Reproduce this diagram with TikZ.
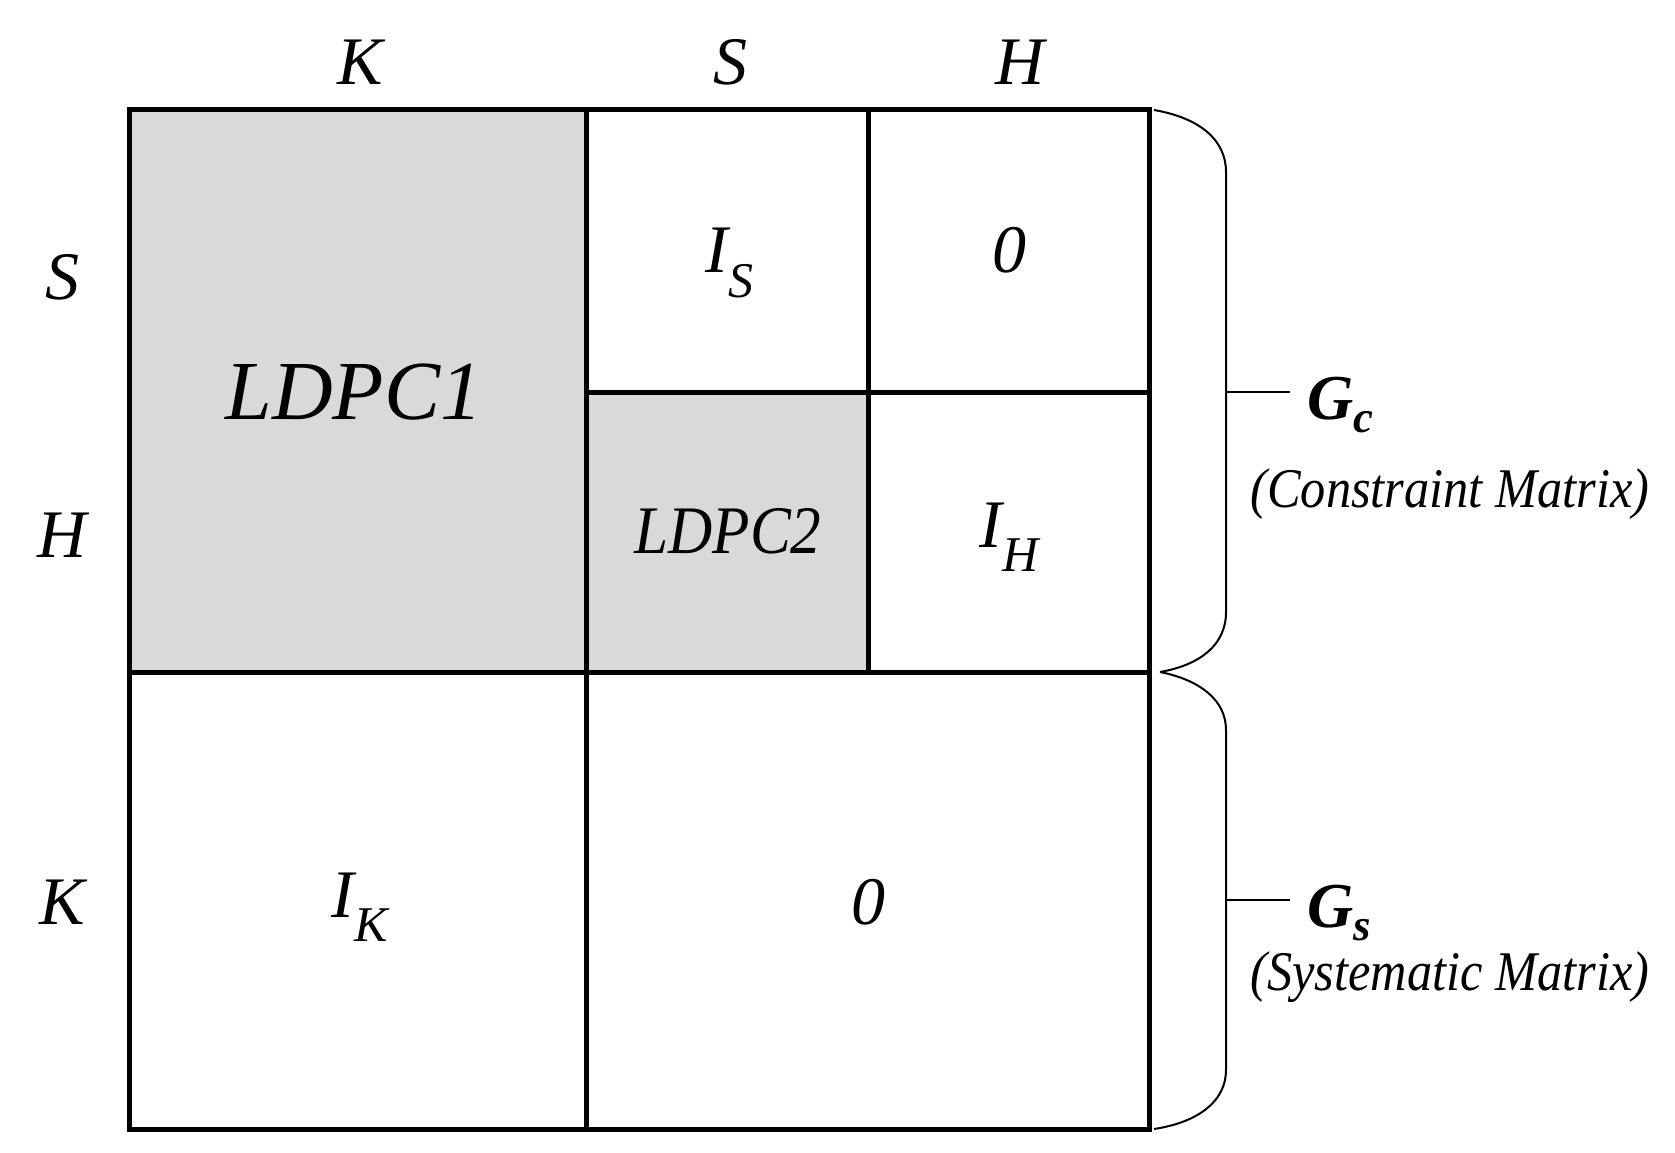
\documentclass[tikz,border=0pt]{standalone}
\usepackage{fontspec}
\setmainfont{Liberation Serif}
\begin{document}
\begin{tikzpicture}[x=1pt,y=-1pt,
  cell/.style={draw=black,line width=5pt},
  lab/.style={font=\fontsize{68}{68}\selectfont\itshape},
  big/.style={font=\fontsize{84}{84}\selectfont\itshape},
  note/.style={font=\fontsize{56}{56}\selectfont\itshape,xscale=0.9},
  brace/.style={line width=2pt}]
\useasboundingbox (0,0) rectangle (1675,1153);
\fill[gray!30] (129,110) rectangle (586,672);
\fill[gray!30] (586,392) rectangle (868,672);
\draw[cell] (129,110) rectangle (1149,1129);
\draw[cell] (129,672) -- (1149,672);
\draw[cell] (586,110) -- (586,1129);
\draw[cell] (868,110) -- (868,672);
\draw[cell] (586,392) -- (1149,392);
\node[lab] (tk) at (360,62) {K};
\node[lab] (ts) at (730,62) {S};
\node[lab] (th) at (1020,62) {H};
\node[lab] (ls) at (62,277) {S};
\node[lab] (lh) at (62,535) {H};
\node[lab] (lk) at (62,902) {K};
\node[big] (l1) at (354,392) {LDPC1};
\node[lab,xscale=0.9] (l2) at (728,531) {LDPC2};
\node[lab] (is) at (730,263) {I\textsubscript{\fontsize{50}{50}\selectfont S}};
\node[lab] (z1) at (1009,250) {0};
\node[lab] (ih) at (1009,537) {I\textsubscript{\fontsize{50}{50}\selectfont H}};
\node[lab] (ik) at (360,907) {I\textsubscript{\fontsize{50}{50}\selectfont K}};
\node[lab] (z2) at (868,902) {0};
\draw[brace] (1154,110) .. controls (1200,118) and (1226,140) .. (1226,172) -- (1226,612) .. controls (1226,645) and (1200,665) .. (1160,672);
\draw[brace] (1160,672) .. controls (1200,680) and (1226,700) .. (1226,730) -- (1226,1070) .. controls (1226,1100) and (1200,1122) .. (1154,1129);
\coordinate (b1) at (1226,392);
\coordinate (b2) at (1226,900);
\node[font=\fontsize{64}{64}\selectfont\bfseries\itshape,anchor=west] (gc) at (1304,405) {G\textsubscript{c}};
\node[font=\fontsize{64}{64}\selectfont\bfseries\itshape,anchor=west] (gs) at (1304,913) {G\textsubscript{s}};
\draw[brace] (b1) -- (1290,392);
\draw[brace] (b2) -- (1290,900);
\node[note] (cm) at (1450,494) {(Constraint Matrix)};
\node[note] (sm) at (1450,977) {(Systematic Matrix)};
\end{tikzpicture}
\end{document}
